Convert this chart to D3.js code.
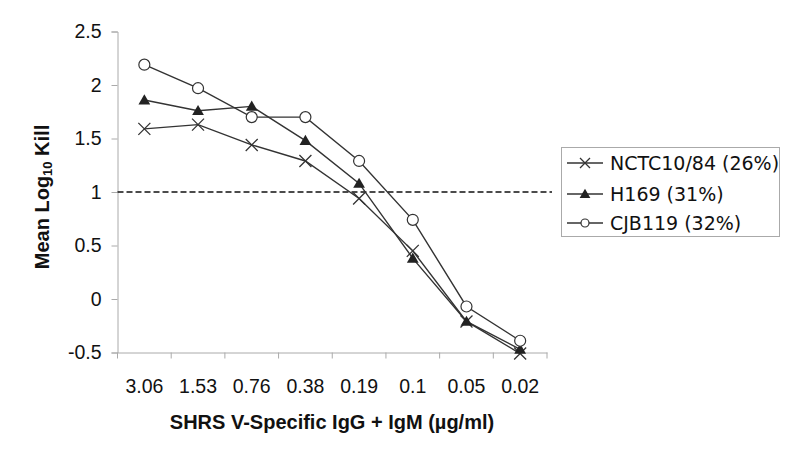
<!DOCTYPE html>
<html><head><meta charset="utf-8">
<script src="https://cdn.jsdelivr.net/npm/d3@7"></script>
<style>body{margin:0;background:#fff}</style>
</head><body>
<svg id="c" width="800" height="452"></svg>
<script>
const categories = ["3.06","1.53","0.76","0.38","0.19","0.1","0.05","0.02"];
const nctc = [1.59,1.63,1.44,1.29,0.94,0.45,-0.21,-0.51];
const h169 = [1.86,1.76,1.80,1.48,1.08,0.38,-0.21,-0.47];
const cjb = [2.19,1.97,1.70,1.70,1.29,0.74,-0.07,-0.39];
const seriesNames = ["NCTC10/84 (26%)","H169 (31%)","CJB119 (32%)"];
const yTicks = [-0.5,0,0.5,1,1.5,2,2.5];
const threshold = 1;

const svg = d3.select("#c");
const L = 117.5, R = 547, T = 31.5, B = 352.5;
const x = d3.scaleBand().domain(categories).range([L, R]);
const y = d3.scaleLinear().domain([-0.5, 2.5]).range([B, T]);
const axisColor = "#aaa";
const font = "Liberation Sans, Arial, sans-serif";

// y axis
const ya = svg.append("g").attr("transform", `translate(${L},0)`)
  .call(d3.axisLeft(y).tickValues(yTicks).tickSize(6).tickFormat(d => String(d)));
ya.select(".domain").attr("stroke", axisColor);
ya.selectAll(".tick line").attr("stroke", axisColor);
ya.selectAll(".tick text").attr("font-family", font).attr("font-size", 19.5).attr("fill", "#111").attr("x", -16);

// x axis
const xa = svg.append("g").attr("transform", `translate(0,${B})`)
  .call(d3.axisBottom(x).tickSize(0).tickSizeOuter(0));
xa.select(".domain").attr("stroke", axisColor);
xa.selectAll(".tick text").attr("font-family", font).attr("font-size", 19.5).attr("fill", "#111").attr("y", 40).attr("dy", 0);
// boundary ticks
const bounds = categories.map(c => x(c)).concat([R]);
svg.append("g").selectAll("line").data(bounds).join("line")
  .attr("x1", d => d).attr("x2", d => d).attr("y1", B).attr("y2", B + 6)
  .attr("stroke", axisColor);

// threshold dashed line
svg.append("line").attr("x1", L).attr("x2", 552).attr("y1", y(threshold)).attr("y2", y(threshold))
  .attr("stroke", "#111").attr("stroke-width", 1.3).attr("stroke-dasharray", "6,3");

const cx = c => x(c) + x.bandwidth() / 2;
const lineGen = d3.line().x((d, i) => cx(categories[i])).y(d => y(d));
const lineColor = "#333";
const data = [nctc, h169, cjb];
const kinds = ["x", "tri", "circ"];

function drawMarker(g, kind, px, py) {
  if (kind === "x") {
    g.append("path").attr("d", `M${px-6},${py-6}L${px+6},${py+6}M${px-6},${py+6}L${px+6},${py-6}`)
      .attr("stroke", lineColor).attr("stroke-width", 1.3).attr("fill", "none");
  } else if (kind === "tri") {
    g.append("path").attr("d", d3.symbol().type(d3.symbolTriangle).size(60)()).attr("transform", `translate(${px},${py+1})`)
      .attr("fill", "#222");
  } else {
    g.append("circle").attr("cx", px).attr("cy", py).attr("r", 5.5)
      .attr("fill", "#fff").attr("stroke", lineColor).attr("stroke-width", 1.2);
  }
}

data.forEach((vals, si) => {
  const g = svg.append("g");
  g.append("path").datum(vals).attr("d", lineGen).attr("fill", "none").attr("stroke", lineColor).attr("stroke-width", 1.4);
  vals.forEach((v, i) => drawMarker(g, kinds[si], cx(categories[i]), y(v)));
});

// legend
const lg = svg.append("g");
lg.append("rect").attr("x", 561.5).attr("y", 147.5).attr("width", 218).attr("height", 89)
  .attr("fill", "#fff").attr("stroke", "#aaa");
const ly = [163, 194, 223];
seriesNames.forEach((n, i) => {
  lg.append("line").attr("x1", 567).attr("x2", 603).attr("y1", ly[i]).attr("y2", ly[i]).attr("stroke", lineColor).attr("stroke-width", 1.4);
  if (kinds[i] === "x") {
    lg.append("path").attr("d", `M${585-5},${ly[i]-5}L${585+5},${ly[i]+5}M${585-5},${ly[i]+5}L${585+5},${ly[i]-5}`).attr("stroke", lineColor).attr("stroke-width",1.3);
  } else if (kinds[i] === "tri") {
    lg.append("path").attr("d", d3.symbol().type(d3.symbolTriangle).size(50)()).attr("transform", `translate(585,${ly[i]+1})`).attr("fill", "#222");
  } else {
    lg.append("circle").attr("cx", 585).attr("cy", ly[i]).attr("r", 4).attr("fill", "#fff").attr("stroke", lineColor).attr("stroke-width", 1.2);
  }
  lg.append("text").attr("x", 610).attr("y", ly[i]).attr("dy", "0.36em")
    .attr("font-family", "DejaVu Sans, Verdana, sans-serif").attr("font-size", 19).attr("fill", "#111").text(n);
});

// axis titles
svg.append("text").attr("x", 332).attr("y", 429).attr("text-anchor", "middle")
  .attr("font-family", font).attr("font-weight", "bold").attr("font-size", 20).attr("fill", "#111")
  .text("SHRS V-Specific IgG + IgM (µg/ml)");
const yt = svg.append("text").attr("transform", "translate(49,197) rotate(-90)").attr("text-anchor", "middle")
  .attr("font-family", font).attr("font-weight", "bold").attr("font-size", 20).attr("fill", "#111");
yt.append("tspan").text("Mean Log");
yt.append("tspan").attr("font-size", 13).attr("dy", 3).text("10");
yt.append("tspan").attr("dy", -3).text(" Kill");
</script>
</body></html>
